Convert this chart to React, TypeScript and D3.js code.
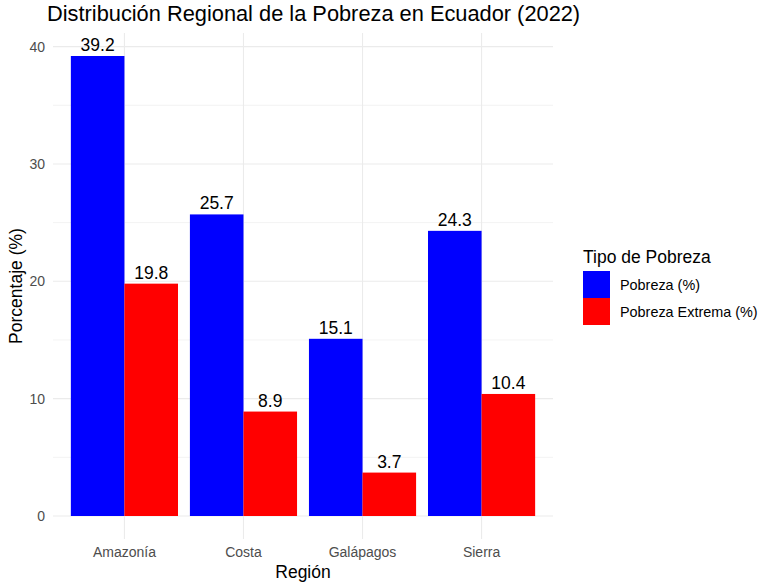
import React from "react";
import * as d3 from "d3";

const regions = ["Amazonía", "Costa", "Galápagos", "Sierra"];
const seriesNames = ["Pobreza (%)", "Pobreza Extrema (%)"];
const pobreza = [39.2, 25.7, 15.1, 24.3];
const pobrezaExtrema = [19.8, 8.9, 3.7, 10.4];
const colors = ["#0000FF", "#FF0000"];
const yTicks = [0, 10, 20, 30, 40];
const yMinor = [5, 15, 25, 35];

const W = 759;
const H = 582;
const FONT = "'Liberation Sans', Arial, sans-serif";

export default function App() {
  const panel = { left: 53, right: 553, top: 33, bottom: 539 };
  const maxV = d3.max([...pobreza, ...pobrezaExtrema]) as number;
  const pad = maxV * 0.05;
  const y = d3.scaleLinear().domain([-pad, maxV + pad]).range([panel.bottom, panel.top]);
  const unit = (panel.right - panel.left) / (regions.length - 1 + 1.2);
  const x = d3.scalePoint<string>().domain(regions).range([panel.left + 0.6 * unit, panel.right - 0.6 * unit]);
  const groupW = 0.9 * unit;
  const inner = d3.scaleBand<number>().domain([0, 1]).range([-groupW / 2, groupW / 2]).padding(0);
  const series = [pobreza, pobrezaExtrema];

  return (
    <svg width={W} height={H} style={{ position: "absolute", left: 0, top: 0, background: "#fff" }} fontFamily={FONT}>
      <rect width={W} height={H} fill="#fff" />
      {yMinor.map((t) => (
        <line key={"my" + t} x1={panel.left} x2={panel.right} y1={y(t)} y2={y(t)} stroke="#EBEBEB" strokeWidth={0.6} />
      ))}
      {yTicks.map((t) => (
        <line key={"gy" + t} x1={panel.left} x2={panel.right} y1={y(t)} y2={y(t)} stroke="#EBEBEB" strokeWidth={1.1} />
      ))}
      {regions.map((r) => (
        <line key={"gx" + r} x1={x(r)} x2={x(r)} y1={panel.top} y2={panel.bottom} stroke="#EBEBEB" strokeWidth={1.1} />
      ))}
      {regions.map((r, i) =>
        series.map((s, j) => {
          const x0 = (x(r) as number) + (inner(j) as number);
          const bw = inner.bandwidth();
          return (
            <g key={r + j}>
              <rect x={x0} y={y(s[i])} width={bw} height={y(0) - y(s[i])} fill={colors[j]} />
              <text x={x0 + bw / 2} y={y(s[i]) - 5} textAnchor="middle" fontSize={17.5} fill="#000">
                {s[i].toFixed(1)}
              </text>
            </g>
          );
        })
      )}
      {yTicks.map((t) => (
        <text key={"yt" + t} x={45} y={y(t)} dy="0.35em" textAnchor="end" fontSize={14} fill="#4D4D4D">
          {t}
        </text>
      ))}
      {regions.map((r) => (
        <text key={"xt" + r} x={x(r)} y={557} textAnchor="middle" fontSize={14} fill="#4D4D4D">
          {r}
        </text>
      ))}
      <text x={303} y={578} textAnchor="middle" fontSize={17.5} fill="#000">Región</text>
      <text transform={`translate(22,${(panel.top + panel.bottom) / 2}) rotate(-90)`} textAnchor="middle" fontSize={17.5} fill="#000">
        Porcentaje (%)
      </text>
      <text x={47} y={21} fontSize={21.8} fill="#000">Distribución Regional de la Pobreza en Ecuador (2022)</text>
      <text x={583} y={263} fontSize={17.5} fill="#000">Tipo de Pobreza</text>
      {seriesNames.map((n, j) => (
        <g key={n}>
          <rect x={583} y={271 + j * 27} width={27} height={27} fill={colors[j]} />
          <text x={620} y={271 + j * 27 + 13.5} dy="0.35em" fontSize={14.4} fill="#000">{n}</text>
        </g>
      ))}
    </svg>
  );
}
